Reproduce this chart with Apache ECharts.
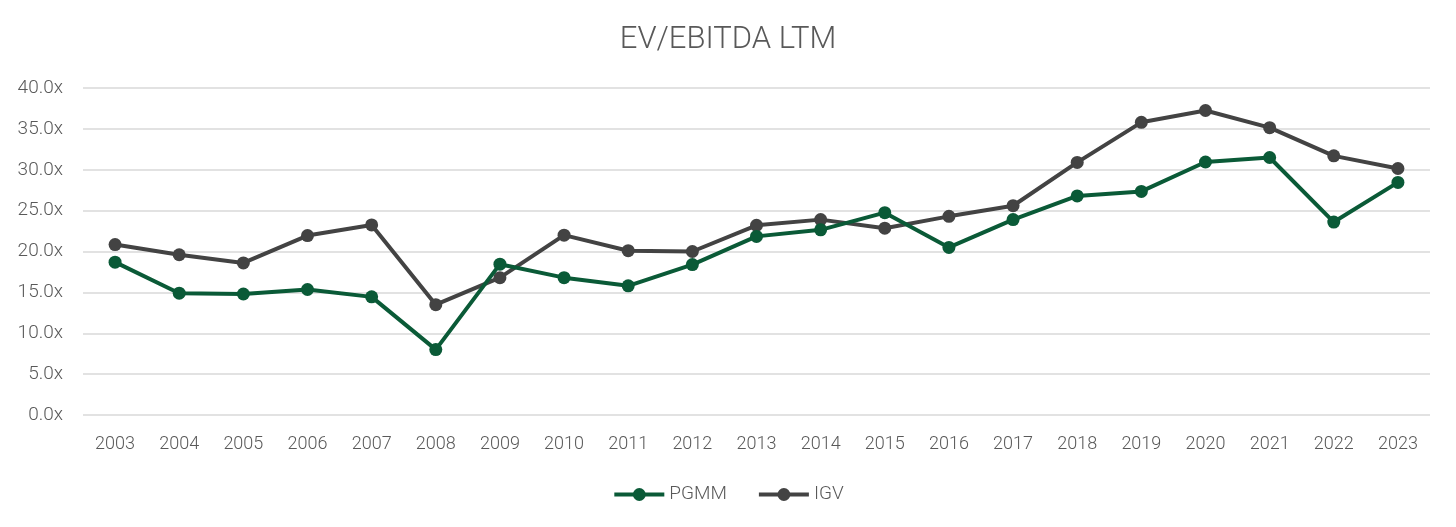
<!DOCTYPE html>
<html>
<head>
<meta charset="utf-8">
<script src="https://cdn.jsdelivr.net/npm/echarts@6/dist/echarts.min.js"></script>
<style>
html,body{margin:0;padding:0;background:#fff;}
#c{width:1456px;height:527px;}
</style>
</head>
<body>
<div id="c"></div>
<script>
const years = ['2003','2004','2005','2006','2007','2008','2009','2010','2011','2012','2013','2014','2015','2016','2017','2018','2019','2020','2021','2022','2023'];
const pgmm = [18.7,14.9,14.8,15.35,14.45,8.0,18.45,16.8,15.8,18.4,21.85,22.65,24.75,20.5,23.9,26.8,27.35,30.95,31.5,23.6,28.45];
const igv = [20.85,19.6,18.6,21.95,23.25,13.5,16.8,22.0,20.1,20.0,23.2,23.9,22.85,24.3,25.6,30.9,35.8,37.25,35.15,31.7,30.15];
const yTicks = {min:0, max:40, interval:5};

const chart = echarts.init(document.getElementById('c'));
const font = 'Roboto';
chart.setOption({
  animation:false,
  title:{text:'EV/EBITDA LTM', left:'center', top:20,
    textStyle:{fontFamily:font, fontWeight:300, fontSize:31, color:'#595959'}},
  grid:{left:83, right:26, top:88, bottom:112},
  legend:{bottom:18, left:'center', itemWidth:50, itemHeight:16, itemGap:30,
    lineStyle:{width:4},
    textStyle:{fontFamily:font, fontWeight:300, fontSize:19, color:'#595959'},
    data:['PGMM','IGV']},
  xAxis:{type:'category', data:years, boundaryGap:true,
    axisLine:{show:false}, axisTick:{show:false},
    axisLabel:{fontFamily:font, fontWeight:300, fontSize:18, color:'#595959', margin:20}},
  yAxis:{type:'value', min:yTicks.min, max:yTicks.max, interval:yTicks.interval,
    axisLine:{show:false}, axisTick:{show:false},
    axisLabel:{fontFamily:font, fontWeight:300, fontSize:19, color:'#595959', margin:20,
      formatter:v=>v.toFixed(1)+'x'},
    splitLine:{lineStyle:{color:'#d9d9d9', width:1.5}}},
  series:[
    {name:'PGMM', type:'line', data:pgmm, symbol:'circle', symbolSize:13,
      lineStyle:{color:'#0a5a37', width:4}, itemStyle:{color:'#0a5a37'}, z:3},
    {name:'IGV', type:'line', data:igv, symbol:'circle', symbolSize:13,
      lineStyle:{color:'#434343', width:4}, itemStyle:{color:'#434343'}, z:2}
  ]
});
</script>
</body>
</html>
